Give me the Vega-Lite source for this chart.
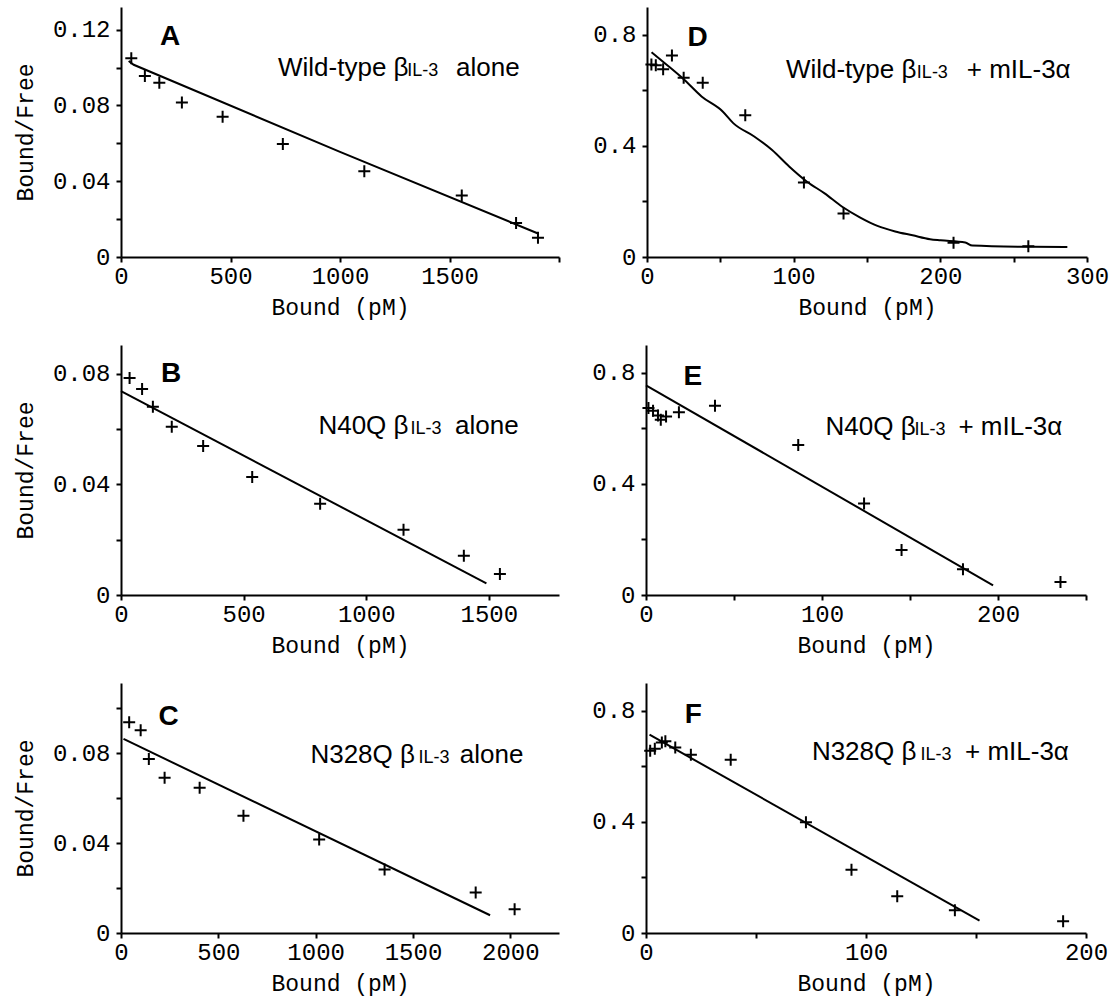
{
  "$schema": "https://vega.github.io/schema/vega-lite/v6.json",
  "background": "white",
  "padding": {"left": 14, "top": 7, "right": 0, "bottom": 8},
  "config": {
    "view": {"stroke": null},
    "axis": {
      "domainColor": "black", "domainWidth": 2, "tickColor": "black", "tickWidth": 2, "tickSize": 5,
      "labelFont": "Liberation Mono", "labelFontSize": 24, "labelColor": "black",
      "titleFont": "Liberation Mono", "titleFontSize": 23, "titleFontWeight": "normal", "titleColor": "black",
      "grid": false, "labelFlush": false, "labelOverlap": false
    },
    "axisX": {"labelPadding": 2, "titlePadding": 8},
    "axisY": {"labelPadding": 6, "titlePadding": 14}
  },
  "datasets": {
    "pts": [
      {"p": "A", "x": 47, "y": 0.105}, {"p": "A", "x": 109, "y": 0.0956}, {"p": "A", "x": 175, "y": 0.092}, {"p": "A", "x": 278, "y": 0.0816}, {"p": "A", "x": 464, "y": 0.074}, {"p": "A", "x": 739, "y": 0.0596}, {"p": "A", "x": 1111, "y": 0.0453}, {"p": "A", "x": 1556, "y": 0.0325}, {"p": "A", "x": 1804, "y": 0.0179}, {"p": "A", "x": 1904, "y": 0.0102},
      {"p": "B", "x": 35, "y": 0.0785}, {"p": "B", "x": 86, "y": 0.0745}, {"p": "B", "x": 130, "y": 0.0681}, {"p": "B", "x": 207, "y": 0.0608}, {"p": "B", "x": 335, "y": 0.0539}, {"p": "B", "x": 535, "y": 0.0427}, {"p": "B", "x": 812, "y": 0.033}, {"p": "B", "x": 1152, "y": 0.0236}, {"p": "B", "x": 1398, "y": 0.0142}, {"p": "B", "x": 1545, "y": 0.0076},
      {"p": "C", "x": 42, "y": 0.0938}, {"p": "C", "x": 101, "y": 0.0903}, {"p": "C", "x": 143, "y": 0.0775}, {"p": "C", "x": 224, "y": 0.0691}, {"p": "C", "x": 404, "y": 0.0647}, {"p": "C", "x": 629, "y": 0.0522}, {"p": "C", "x": 1018, "y": 0.0416}, {"p": "C", "x": 1354, "y": 0.0283}, {"p": "C", "x": 1822, "y": 0.018}, {"p": "C", "x": 2022, "y": 0.0106},
      {"p": "D", "x": 3, "y": 0.693}, {"p": "D", "x": 6, "y": 0.69}, {"p": "D", "x": 11, "y": 0.676}, {"p": "D", "x": 17, "y": 0.725}, {"p": "D", "x": 25, "y": 0.645}, {"p": "D", "x": 38, "y": 0.627}, {"p": "D", "x": 67, "y": 0.51}, {"p": "D", "x": 107, "y": 0.268}, {"p": "D", "x": 134, "y": 0.157}, {"p": "D", "x": 209, "y": 0.051}, {"p": "D", "x": 260, "y": 0.039},
      {"p": "E", "x": 1.4, "y": 0.673}, {"p": "E", "x": 4, "y": 0.663}, {"p": "E", "x": 6.8, "y": 0.646}, {"p": "E", "x": 8.4, "y": 0.631}, {"p": "E", "x": 11.4, "y": 0.643}, {"p": "E", "x": 18.7, "y": 0.658}, {"p": "E", "x": 39.2, "y": 0.681}, {"p": "E", "x": 86.5, "y": 0.54}, {"p": "E", "x": 123.9, "y": 0.329}, {"p": "E", "x": 145.2, "y": 0.162}, {"p": "E", "x": 180.1, "y": 0.093}, {"p": "E", "x": 235.5, "y": 0.047},
      {"p": "F", "x": 1.9, "y": 0.656}, {"p": "F", "x": 4, "y": 0.663}, {"p": "F", "x": 7.2, "y": 0.686}, {"p": "F", "x": 8.8, "y": 0.69}, {"p": "F", "x": 13.3, "y": 0.668}, {"p": "F", "x": 20.4, "y": 0.642}, {"p": "F", "x": 38.5, "y": 0.624}, {"p": "F", "x": 72.7, "y": 0.399}, {"p": "F", "x": 93.4, "y": 0.228}, {"p": "F", "x": 114.2, "y": 0.132}, {"p": "F", "x": 140.4, "y": 0.0816}, {"p": "F", "x": 189.6, "y": 0.042}
    ],
    "lines": [
      {"p": "A", "x": 35, "y": 0.1035}, {"p": "A", "x": 58, "y": 0.1015}, {"p": "A", "x": 1000, "y": 0.0555}, {"p": "A", "x": 1907, "y": 0.0123},
      {"p": "B", "x": 0, "y": 0.0737}, {"p": "B", "x": 1490, "y": 0.0042},
      {"p": "C", "x": 13, "y": 0.0864}, {"p": "C", "x": 1896, "y": 0.0079},
      {"p": "D", "x": 3.1, "y": 0.737}, {"p": "D", "x": 13.2, "y": 0.693}, {"p": "D", "x": 25.2, "y": 0.639}, {"p": "D", "x": 37.2, "y": 0.578}, {"p": "D", "x": 51.6, "y": 0.524}, {"p": "D", "x": 58.8, "y": 0.482}, {"p": "D", "x": 73.1, "y": 0.434}, {"p": "D", "x": 85.1, "y": 0.386}, {"p": "D", "x": 97.1, "y": 0.325}, {"p": "D", "x": 109.1, "y": 0.271}, {"p": "D", "x": 121.1, "y": 0.229}, {"p": "D", "x": 133.1, "y": 0.181}, {"p": "D", "x": 145.1, "y": 0.143}, {"p": "D", "x": 157.1, "y": 0.112}, {"p": "D", "x": 169.2, "y": 0.092}, {"p": "D", "x": 181.1, "y": 0.078}, {"p": "D", "x": 193, "y": 0.064}, {"p": "D", "x": 200.2, "y": 0.06}, {"p": "D", "x": 217, "y": 0.052}, {"p": "D", "x": 221.8, "y": 0.041}, {"p": "D", "x": 253, "y": 0.037}, {"p": "D", "x": 286.6, "y": 0.036},
      {"p": "E", "x": 0, "y": 0.755}, {"p": "E", "x": 197.2, "y": 0.035},
      {"p": "F", "x": 1.6, "y": 0.714}, {"p": "F", "x": 151.6, "y": 0.0444}
    ],
    "ann": [
      {"p": "A", "k": "letter", "t": "A", "x": 178, "y": 0.1119},
      {"p": "A", "k": "main", "t": "Wild-type β", "x": 717, "y": 0.0956},
      {"p": "A", "k": "sub", "t": "IL-3", "x": 1307, "y": 0.0956},
      {"p": "A", "k": "main", "t": "alone", "x": 1530, "y": 0.0956},
      {"p": "B", "k": "letter", "t": "B", "x": 163, "y": 0.077},
      {"p": "B", "k": "main", "t": "N40Q β", "x": 805, "y": 0.0582},
      {"p": "B", "k": "sub", "t": "IL-3", "x": 1180, "y": 0.0582},
      {"p": "B", "k": "main", "t": "alone", "x": 1362, "y": 0.0582},
      {"p": "C", "k": "letter", "t": "C", "x": 193, "y": 0.0926},
      {"p": "C", "k": "main", "t": "N328Q β", "x": 973, "y": 0.0755},
      {"p": "C", "k": "sub", "t": "IL-3", "x": 1528, "y": 0.0755},
      {"p": "C", "k": "main", "t": "alone", "x": 1740, "y": 0.0755},
      {"p": "D", "k": "letter", "t": "D", "x": 27.6, "y": 0.759},
      {"p": "D", "k": "main", "t": "Wild-type β", "x": 94.7, "y": 0.645},
      {"p": "D", "k": "sub", "t": "IL-3", "x": 184, "y": 0.645},
      {"p": "D", "k": "main", "t": "+ mIL-3α", "x": 218, "y": 0.645},
      {"p": "E", "k": "letter", "t": "E", "x": 21.3, "y": 0.757},
      {"p": "E", "k": "main", "t": "N40Q β", "x": 102, "y": 0.576},
      {"p": "E", "k": "sub", "t": "IL-3", "x": 152.5, "y": 0.576},
      {"p": "E", "k": "main", "t": "+ mIL-3α", "x": 177.5, "y": 0.576},
      {"p": "F", "k": "letter", "t": "F", "x": 17.6, "y": 0.756},
      {"p": "F", "k": "main", "t": "N328Q β", "x": 75.4, "y": 0.624},
      {"p": "F", "k": "sub", "t": "IL-3", "x": 124.8, "y": 0.624},
      {"p": "F", "k": "main", "t": "+ mIL-3α", "x": 145, "y": 0.624}
    ]
  },
  "spacing": 26,
  "vconcat": [
    {
      "spacing": 32,
      "hconcat": [
        {
          "width": 438, "height": 250,
          "encoding": {
            "x": {"field": "x", "type": "quantitative", "scale": {"domain": [0, 2000], "nice": false}, "axis": {"values": [0, 500, 1000, 1500, 2000], "labelExpr": "datum.value >= 2000 ? '' : format(datum.value, 'd')", "title": "Bound (pM)"}},
            "y": {"field": "y", "type": "quantitative", "scale": {"domain": [0, 0.132], "nice": false}, "axis": {"values": [0, 0.02, 0.04, 0.06, 0.08, 0.1, 0.12], "labelExpr": "datum.value == 0 ? '0' : (round(datum.value * 100) % 4 == 0 ? format(datum.value, '.2f') : '')", "title": "Bound/Free", "minExtent": 70, "maxExtent": 70}}
          },
          "layer": [
            {"data": {"name": "lines"}, "transform": [{"filter": "datum.p == 'A'"}], "mark": {"type": "line", "color": "black", "strokeWidth": 2}, "encoding": {}},
            {"data": {"name": "pts"}, "transform": [{"filter": "datum.p == 'A'"}], "mark": {"type": "point", "shape": "M-1,0H1M0,-1V1", "filled": false, "color": "black", "strokeWidth": 2, "size": 144, "opacity": 1}, "encoding": {}},
            {"data": {"name": "ann"}, "transform": [{"filter": "datum.p == 'A' && datum.k == 'letter'"}], "mark": {"type": "text", "font": "Liberation Sans", "fontWeight": "bold", "fontSize": 28, "align": "left", "baseline": "alphabetic", "color": "black"}, "encoding": {"text": {"field": "t"}}},
            {"data": {"name": "ann"}, "transform": [{"filter": "datum.p == 'A' && datum.k == 'main'"}], "mark": {"type": "text", "font": "Liberation Sans", "fontSize": 26, "align": "left", "baseline": "alphabetic", "color": "black"}, "encoding": {"text": {"field": "t"}}},
            {"data": {"name": "ann"}, "transform": [{"filter": "datum.p == 'A' && datum.k == 'sub'"}], "mark": {"type": "text", "font": "Liberation Sans", "fontSize": 18, "align": "left", "baseline": "alphabetic", "color": "black"}, "encoding": {"text": {"field": "t"}}}
          ]
        },
        {
          "width": 440, "height": 250,
          "encoding": {
            "x": {"field": "x", "type": "quantitative", "scale": {"domain": [0, 300], "nice": false}, "axis": {"values": [0, 50, 100, 150, 200, 250, 300], "labelExpr": "datum.value % 100 == 0 ? format(datum.value, 'd') : ''", "title": "Bound (pM)"}},
            "y": {"field": "y", "type": "quantitative", "scale": {"domain": [0, 0.9], "nice": false}, "axis": {"values": [0, 0.2, 0.4, 0.6, 0.8], "labelExpr": "datum.value == 0 ? '0' : (round(datum.value * 10) % 4 == 0 ? format(datum.value, '.1f') : '')", "title": null, "minExtent": 55, "maxExtent": 55}}
          },
          "layer": [
            {"data": {"name": "lines"}, "transform": [{"filter": "datum.p == 'D'"}], "mark": {"type": "line", "color": "black", "strokeWidth": 2, "interpolate": "monotone"}, "encoding": {}},
            {"data": {"name": "pts"}, "transform": [{"filter": "datum.p == 'D'"}], "mark": {"type": "point", "shape": "M-1,0H1M0,-1V1", "filled": false, "color": "black", "strokeWidth": 2, "size": 144, "opacity": 1}, "encoding": {}},
            {"data": {"name": "ann"}, "transform": [{"filter": "datum.p == 'D' && datum.k == 'letter'"}], "mark": {"type": "text", "font": "Liberation Sans", "fontWeight": "bold", "fontSize": 28, "align": "left", "baseline": "alphabetic", "color": "black"}, "encoding": {"text": {"field": "t"}}},
            {"data": {"name": "ann"}, "transform": [{"filter": "datum.p == 'D' && datum.k == 'main'"}], "mark": {"type": "text", "font": "Liberation Sans", "fontSize": 26, "align": "left", "baseline": "alphabetic", "color": "black"}, "encoding": {"text": {"field": "t"}}},
            {"data": {"name": "ann"}, "transform": [{"filter": "datum.p == 'D' && datum.k == 'sub'"}], "mark": {"type": "text", "font": "Liberation Sans", "fontSize": 18, "align": "left", "baseline": "alphabetic", "color": "black"}, "encoding": {"text": {"field": "t"}}}
          ]
        }
      ]
    },
    {
      "spacing": 32,
      "hconcat": [
        {
          "width": 438, "height": 250,
          "encoding": {
            "x": {"field": "x", "type": "quantitative", "scale": {"domain": [0, 1786], "nice": false}, "axis": {"values": [0, 500, 1000, 1500], "format": "d", "title": "Bound (pM)"}},
            "y": {"field": "y", "type": "quantitative", "scale": {"domain": [0, 0.0904], "nice": false}, "axis": {"values": [0, 0.02, 0.04, 0.06, 0.08], "labelExpr": "datum.value == 0 ? '0' : (round(datum.value * 100) % 4 == 0 ? format(datum.value, '.2f') : '')", "title": "Bound/Free", "minExtent": 70, "maxExtent": 70}}
          },
          "layer": [
            {"data": {"name": "lines"}, "transform": [{"filter": "datum.p == 'B'"}], "mark": {"type": "line", "color": "black", "strokeWidth": 2}, "encoding": {}},
            {"data": {"name": "pts"}, "transform": [{"filter": "datum.p == 'B'"}], "mark": {"type": "point", "shape": "M-1,0H1M0,-1V1", "filled": false, "color": "black", "strokeWidth": 2, "size": 144, "opacity": 1}, "encoding": {}},
            {"data": {"name": "ann"}, "transform": [{"filter": "datum.p == 'B' && datum.k == 'letter'"}], "mark": {"type": "text", "font": "Liberation Sans", "fontWeight": "bold", "fontSize": 28, "align": "left", "baseline": "alphabetic", "color": "black"}, "encoding": {"text": {"field": "t"}}},
            {"data": {"name": "ann"}, "transform": [{"filter": "datum.p == 'B' && datum.k == 'main'"}], "mark": {"type": "text", "font": "Liberation Sans", "fontSize": 26, "align": "left", "baseline": "alphabetic", "color": "black"}, "encoding": {"text": {"field": "t"}}},
            {"data": {"name": "ann"}, "transform": [{"filter": "datum.p == 'B' && datum.k == 'sub'"}], "mark": {"type": "text", "font": "Liberation Sans", "fontSize": 18, "align": "left", "baseline": "alphabetic", "color": "black"}, "encoding": {"text": {"field": "t"}}}
          ]
        },
        {
          "width": 440, "height": 250,
          "encoding": {
            "x": {"field": "x", "type": "quantitative", "scale": {"domain": [0, 250], "nice": false}, "axis": {"values": [0, 50, 100, 150, 200, 250], "labelExpr": "datum.value % 100 == 0 ? format(datum.value, 'd') : ''", "title": "Bound (pM)"}},
            "y": {"field": "y", "type": "quantitative", "scale": {"domain": [0, 0.9], "nice": false}, "axis": {"values": [0, 0.2, 0.4, 0.6, 0.8], "labelExpr": "datum.value == 0 ? '0' : (round(datum.value * 10) % 4 == 0 ? format(datum.value, '.1f') : '')", "title": null, "minExtent": 55, "maxExtent": 55}}
          },
          "layer": [
            {"data": {"name": "lines"}, "transform": [{"filter": "datum.p == 'E'"}], "mark": {"type": "line", "color": "black", "strokeWidth": 2}, "encoding": {}},
            {"data": {"name": "pts"}, "transform": [{"filter": "datum.p == 'E'"}], "mark": {"type": "point", "shape": "M-1,0H1M0,-1V1", "filled": false, "color": "black", "strokeWidth": 2, "size": 144, "opacity": 1}, "encoding": {}},
            {"data": {"name": "ann"}, "transform": [{"filter": "datum.p == 'E' && datum.k == 'letter'"}], "mark": {"type": "text", "font": "Liberation Sans", "fontWeight": "bold", "fontSize": 28, "align": "left", "baseline": "alphabetic", "color": "black"}, "encoding": {"text": {"field": "t"}}},
            {"data": {"name": "ann"}, "transform": [{"filter": "datum.p == 'E' && datum.k == 'main'"}], "mark": {"type": "text", "font": "Liberation Sans", "fontSize": 26, "align": "left", "baseline": "alphabetic", "color": "black"}, "encoding": {"text": {"field": "t"}}},
            {"data": {"name": "ann"}, "transform": [{"filter": "datum.p == 'E' && datum.k == 'sub'"}], "mark": {"type": "text", "font": "Liberation Sans", "fontSize": 18, "align": "left", "baseline": "alphabetic", "color": "black"}, "encoding": {"text": {"field": "t"}}}
          ]
        }
      ]
    },
    {
      "spacing": 32,
      "hconcat": [
        {
          "width": 438, "height": 250,
          "encoding": {
            "x": {"field": "x", "type": "quantitative", "scale": {"domain": [0, 2250], "nice": false}, "axis": {"values": [0, 500, 1000, 1500, 2000], "format": "d", "title": "Bound (pM)"}},
            "y": {"field": "y", "type": "quantitative", "scale": {"domain": [0, 0.1113], "nice": false}, "axis": {"values": [0, 0.02, 0.04, 0.06, 0.08, 0.1], "labelExpr": "datum.value == 0 ? '0' : (round(datum.value * 100) % 4 == 0 ? format(datum.value, '.2f') : '')", "title": "Bound/Free", "minExtent": 70, "maxExtent": 70}}
          },
          "layer": [
            {"data": {"name": "lines"}, "transform": [{"filter": "datum.p == 'C'"}], "mark": {"type": "line", "color": "black", "strokeWidth": 2}, "encoding": {}},
            {"data": {"name": "pts"}, "transform": [{"filter": "datum.p == 'C'"}], "mark": {"type": "point", "shape": "M-1,0H1M0,-1V1", "filled": false, "color": "black", "strokeWidth": 2, "size": 144, "opacity": 1}, "encoding": {}},
            {"data": {"name": "ann"}, "transform": [{"filter": "datum.p == 'C' && datum.k == 'letter'"}], "mark": {"type": "text", "font": "Liberation Sans", "fontWeight": "bold", "fontSize": 28, "align": "left", "baseline": "alphabetic", "color": "black"}, "encoding": {"text": {"field": "t"}}},
            {"data": {"name": "ann"}, "transform": [{"filter": "datum.p == 'C' && datum.k == 'main'"}], "mark": {"type": "text", "font": "Liberation Sans", "fontSize": 26, "align": "left", "baseline": "alphabetic", "color": "black"}, "encoding": {"text": {"field": "t"}}},
            {"data": {"name": "ann"}, "transform": [{"filter": "datum.p == 'C' && datum.k == 'sub'"}], "mark": {"type": "text", "font": "Liberation Sans", "fontSize": 18, "align": "left", "baseline": "alphabetic", "color": "black"}, "encoding": {"text": {"field": "t"}}}
          ]
        },
        {
          "width": 440, "height": 250,
          "encoding": {
            "x": {"field": "x", "type": "quantitative", "scale": {"domain": [0, 200], "nice": false}, "axis": {"values": [0, 50, 100, 150, 200], "labelExpr": "datum.value % 100 == 0 ? format(datum.value, 'd') : ''", "title": "Bound (pM)"}},
            "y": {"field": "y", "type": "quantitative", "scale": {"domain": [0, 0.9], "nice": false}, "axis": {"values": [0, 0.2, 0.4, 0.6, 0.8], "labelExpr": "datum.value == 0 ? '0' : (round(datum.value * 10) % 4 == 0 ? format(datum.value, '.1f') : '')", "title": null, "minExtent": 55, "maxExtent": 55}}
          },
          "layer": [
            {"data": {"name": "lines"}, "transform": [{"filter": "datum.p == 'F'"}], "mark": {"type": "line", "color": "black", "strokeWidth": 2}, "encoding": {}},
            {"data": {"name": "pts"}, "transform": [{"filter": "datum.p == 'F'"}], "mark": {"type": "point", "shape": "M-1,0H1M0,-1V1", "filled": false, "color": "black", "strokeWidth": 2, "size": 144, "opacity": 1}, "encoding": {}},
            {"data": {"name": "ann"}, "transform": [{"filter": "datum.p == 'F' && datum.k == 'letter'"}], "mark": {"type": "text", "font": "Liberation Sans", "fontWeight": "bold", "fontSize": 28, "align": "left", "baseline": "alphabetic", "color": "black"}, "encoding": {"text": {"field": "t"}}},
            {"data": {"name": "ann"}, "transform": [{"filter": "datum.p == 'F' && datum.k == 'main'"}], "mark": {"type": "text", "font": "Liberation Sans", "fontSize": 26, "align": "left", "baseline": "alphabetic", "color": "black"}, "encoding": {"text": {"field": "t"}}},
            {"data": {"name": "ann"}, "transform": [{"filter": "datum.p == 'F' && datum.k == 'sub'"}], "mark": {"type": "text", "font": "Liberation Sans", "fontSize": 18, "align": "left", "baseline": "alphabetic", "color": "black"}, "encoding": {"text": {"field": "t"}}}
          ]
        }
      ]
    }
  ]
}
